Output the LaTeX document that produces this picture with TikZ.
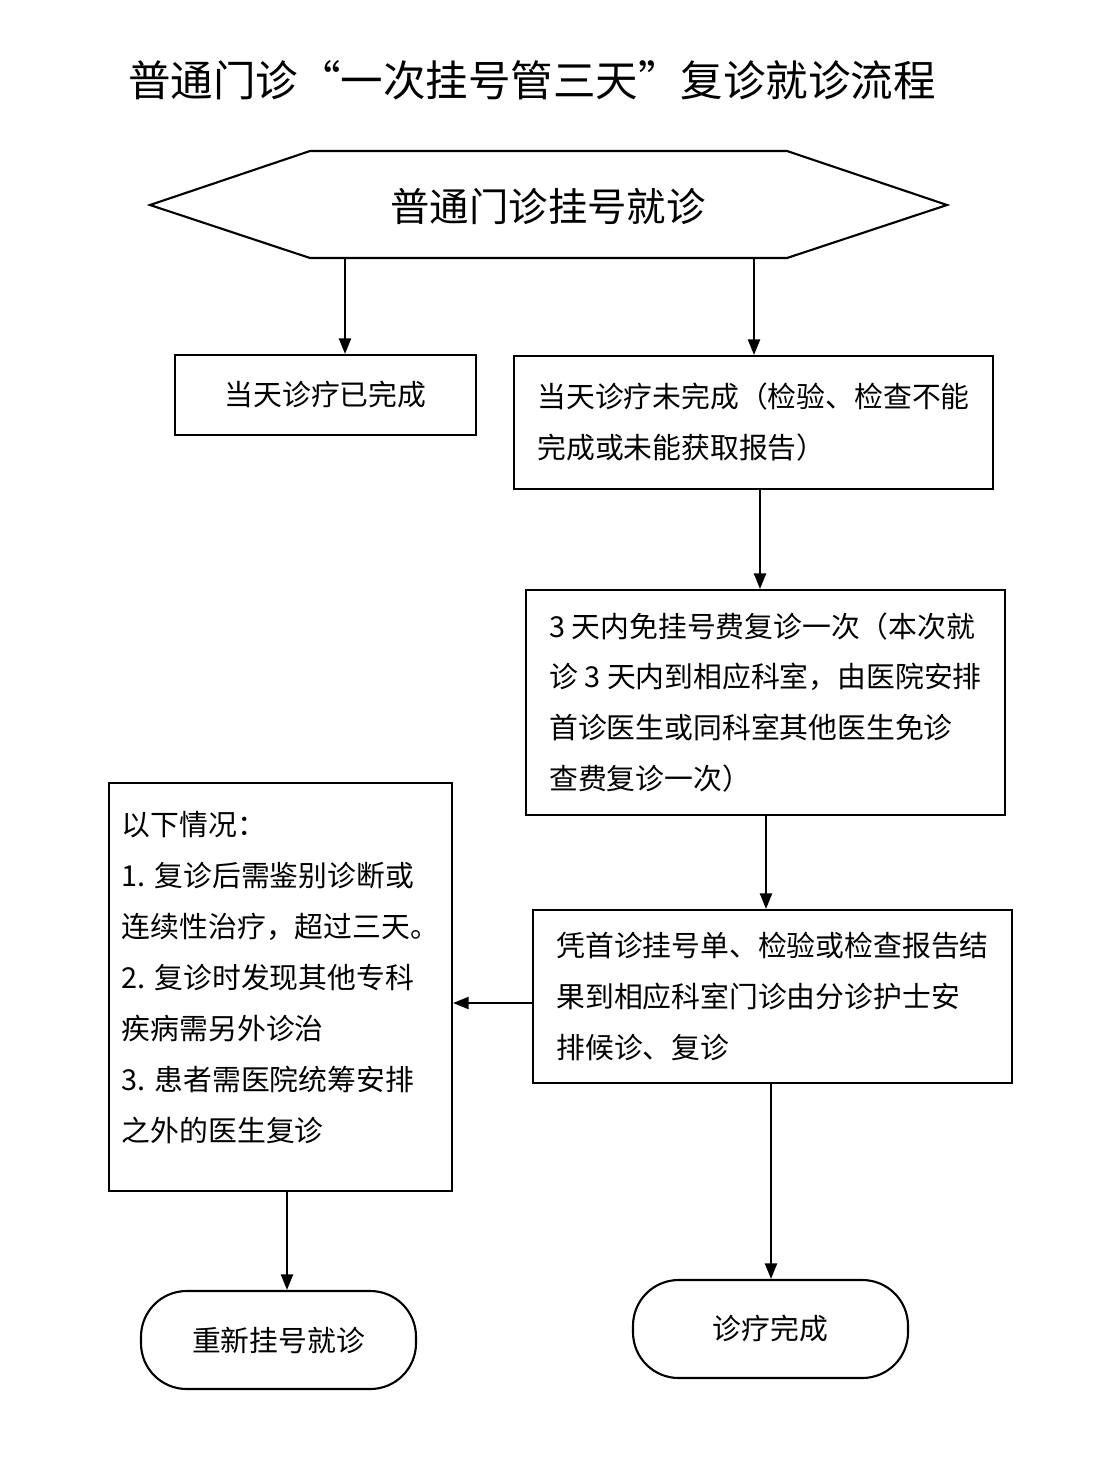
\documentclass[tikz,border=0pt]{standalone}
\usepackage{fontspec}
\setmainfont{Noto Sans CJK SC}
\usetikzlibrary{arrows.meta,calc}
\def\pu{0.28453pt}
\tikzset{
  box/.style={draw=black, line width=0.6pt, inner sep=0pt, align=left,
    font=\fontsize{8.2}{14.5}\selectfont},
  endbox/.style={box, rounded corners=13pt, align=center},
  arr/.style={line width=0.6pt, -{Triangle[length=4.4pt,width=3.4pt]}},
}
\begin{document}
\begin{tikzpicture}[x=0.28453pt,y=-0.28453pt]
\useasboundingbox (0,0) rectangle (1107,1462);
% title
\node[font=\fontsize{12.1}{14}\selectfont] (title) at (532,80) {普通门诊“一次挂号管三天”复诊就诊流程};
% hexagon
\coordinate (hl) at (150,205);
\coordinate (htl) at (310,151);
\coordinate (htr) at (787,151);
\coordinate (hr) at (947,205);
\coordinate (hbr) at (787,258);
\coordinate (hbl) at (310,258);
\draw[line width=0.6pt] (hl) -- (htl) -- (htr) -- (hr) -- (hbr) -- (hbl) -- cycle;
\node[font=\fontsize{11.2}{14}\selectfont] (hex) at (548,207) {普通门诊挂号就诊};
\coordinate (h1) at (345,258);
\coordinate (h2) at (754,258);
% boxes
\node[box, minimum width=301*\pu, minimum height=80*\pu] (b1) at (325.5,395) {当天诊疗已完成};
\node[box, minimum width=479*\pu, minimum height=133*\pu] (b2) at (753.5,422.5)
  {当天诊疗未完成（检验、检查不能\\完成或未能获取报告）};
\node[box, minimum width=479*\pu, minimum height=225*\pu] (b3) at (765.5,702.5)
  {3 天内免挂号费复诊一次（本次就\\诊 3 天内到相应科室，由医院安排\\首诊医生或同科室其他医生免诊\\查费复诊一次）};
\node[box, minimum width=479*\pu, minimum height=173*\pu] (b4) at (772.5,996.5)
  {凭首诊挂号单、检验或检查报告结\\果到相应科室门诊由分诊护士安\\排候诊、复诊};
\node[box, minimum width=343*\pu, minimum height=408*\pu] (b5) at (280.5,987)
  {以下情况：\\1. 复诊后需鉴别诊断或\\连续性治疗，超过三天。\\2. 复诊时发现其他专科\\疾病需另外诊治\\3. 患者需医院统筹安排\\之外的医生复诊\\[-8.5pt]\mbox{}};
\node[endbox, minimum width=275*\pu, minimum height=98*\pu] (b6) at (278.5,1340) {重新挂号就诊};
\node[endbox, minimum width=275*\pu, minimum height=98*\pu] (b7) at (770.5,1329) {诊疗完成};
% arrows
\draw[arr] (h1) -- (h1 |- b1.north);
\draw[arr] (h2) -- (h2 |- b2.north);
\draw[arr] (b2.south -| 760,0) -- (b3.north -| 760,0);
\draw[arr] (b3.south -| 766,0) -- (b4.north -| 766,0);
\draw[arr] (b4.west |- 0,1003) -- (b5.east |- 0,1003);
\draw[arr] (b5.south -| 287,0) -- (b6.north -| 287,0);
\draw[arr] (b4.south -| 771,0) -- (b7.north -| 771,0);
\end{tikzpicture}
\end{document}
